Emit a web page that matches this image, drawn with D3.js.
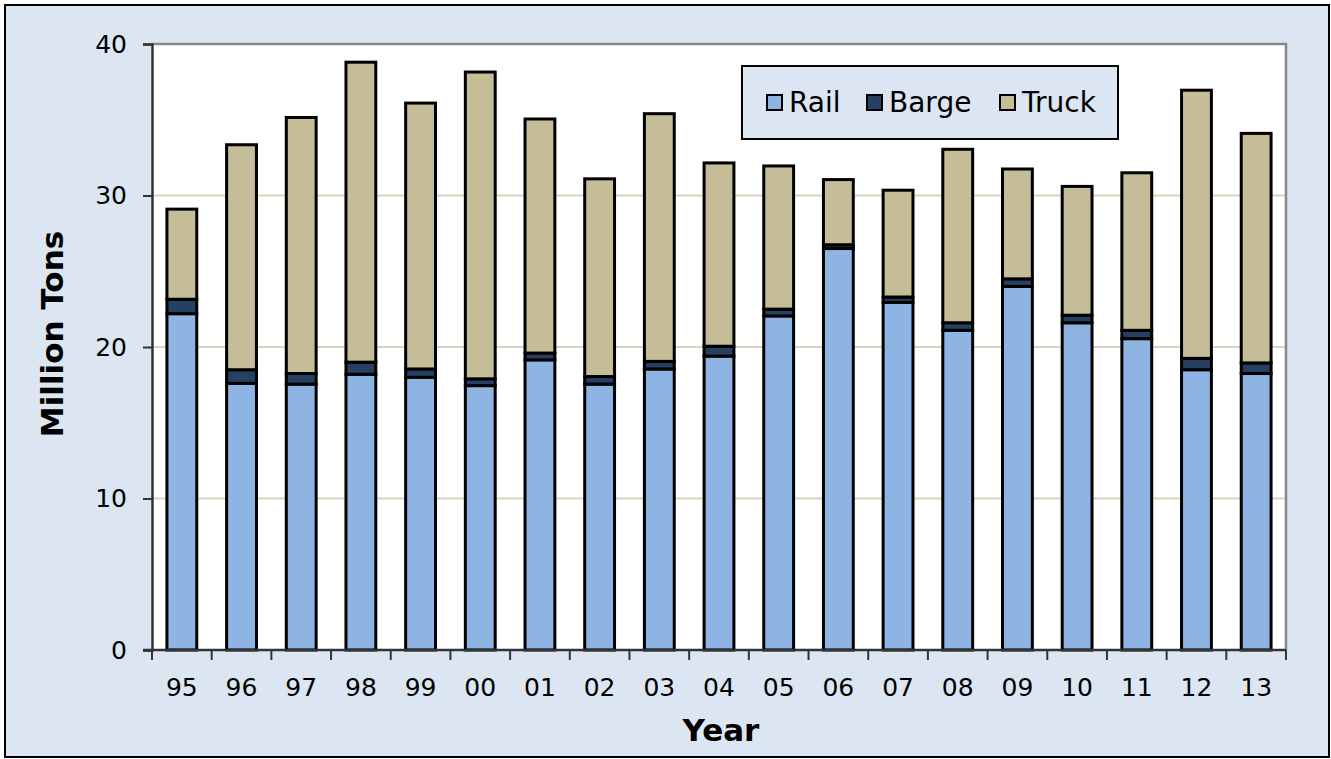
<!DOCTYPE html>
<html>
<head>
<meta charset="utf-8">
<script src="https://cdn.jsdelivr.net/npm/d3@7"></script>
<style>
  body { margin: 0; background: #ffffff; }
  svg { display: block; font-family: "DejaVu Sans", Verdana, sans-serif; }
</style>
</head>
<body>
<svg id="chart" width="1331" height="759"></svg>
<script>
// years on the x axis
var years = ["95", "96", "97", "98", "99", "00", "01", "02", "03", "04", "05", "06", "07", "08", "09", "10", "11", "12", "13"];
var seriesNames = ["Rail", "Barge", "Truck"];

// million tons
var rail  = [22.2, 17.6, 17.55, 18.2, 18.0, 17.45, 19.15, 17.55, 18.55, 19.4, 22.05, 26.5, 22.95, 21.1, 24.0, 21.6, 20.55, 18.5, 18.25];
var barge = [0.95, 0.9, 0.7, 0.8, 0.55, 0.45, 0.45, 0.5, 0.5, 0.65, 0.45, 0.25, 0.35, 0.5, 0.5, 0.5, 0.55, 0.75, 0.7];
var truck = [5.95, 14.85, 16.9, 19.8, 17.55, 20.25, 15.45, 13.05, 16.35, 12.1, 9.45, 4.3, 7.05, 11.45, 7.25, 8.5, 10.4, 17.7, 15.15];

var yTicks = [0, 10, 20, 30, 40];

var colors = { Rail: "#8eb4e3", Barge: "#254061", Truck: "#c4bd97" };

var svg = d3.select("#chart");

// outer frame
svg.append("rect")
    .attr("x", 5).attr("y", 5)
    .attr("width", 1324).attr("height", 752)
    .attr("fill", "#dce6f2")
    .attr("stroke", "#000").attr("stroke-width", 2);

var plotLeft = 152, plotRight = 1286, plotTop = 44, plotBottom = 650;

var x = d3.scaleBand().domain(years).range([plotLeft, plotRight])
    .paddingInner(0.5).paddingOuter(0.25);
var y = d3.scaleLinear().domain([0, 40]).range([plotBottom, plotTop]);

// plot area
svg.append("rect")
    .attr("x", plotLeft).attr("y", plotTop)
    .attr("width", plotRight - plotLeft).attr("height", plotBottom - plotTop)
    .attr("fill", "#fff");

// grid
svg.append("g").selectAll("line")
    .data(yTicks.filter(d => d > 0 && d < 40))
    .enter().append("line")
    .attr("x1", plotLeft).attr("x2", plotRight)
    .attr("y1", d => y(d)).attr("y2", d => y(d))
    .attr("stroke", "#d9d4bd").attr("stroke-width", 2);

// top and right border of plot
svg.append("path")
    .attr("d", "M" + plotLeft + "," + plotTop + "H" + plotRight + "V" + plotBottom)
    .attr("fill", "none")
    .attr("stroke", "#888").attr("stroke-width", 2.5);

// stacked data
var table = years.map((yr, i) => ({ year: yr, Rail: rail[i], Barge: barge[i], Truck: truck[i] }));
var stacked = d3.stack().keys(seriesNames)(table);

svg.append("g").selectAll("g")
    .data(stacked)
    .enter().append("g")
    .attr("fill", d => colors[d.key])
    .selectAll("rect")
    .data(d => d)
    .enter().append("rect")
    .attr("x", d => x(d.data.year))
    .attr("width", x.bandwidth())
    .attr("y", d => y(d[1]))
    .attr("height", d => y(d[0]) - y(d[1]))
    .attr("stroke", "#000")
    .attr("stroke-width", 3);

// y axis
var yAxis = d3.axisLeft(y).tickValues(yTicks).tickSize(9).tickPadding(16);
var gy = svg.append("g")
    .attr("transform", "translate(" + plotLeft + ",0)")
    .call(yAxis);
gy.select(".domain").attr("stroke", "#333").attr("stroke-width", 2.5);
gy.selectAll(".tick line").attr("stroke", "#333").attr("stroke-width", 2);
gy.selectAll("text")
    .attr("font-size", 25)
    .attr("font-family", "DejaVu Sans, sans-serif")
    .attr("fill", "#000");

// x axis, ticks at category boundaries
var gx = svg.append("g");
gx.append("line")
    .attr("x1", plotLeft - 9).attr("x2", plotRight)
    .attr("y1", plotBottom).attr("y2", plotBottom)
    .attr("stroke", "#333").attr("stroke-width", 2.5);
var step = x.step();
gx.selectAll(".xt")
    .data(d3.range(years.length + 1))
    .enter().append("line")
    .attr("x1", i => plotLeft + i * step).attr("x2", i => plotLeft + i * step)
    .attr("y1", plotBottom).attr("y2", plotBottom + 10)
    .attr("stroke", "#333").attr("stroke-width", 2);
gx.selectAll("text")
    .data(years)
    .enter().append("text")
    .attr("x", d => x(d) + x.bandwidth() / 2)
    .attr("y", 696)
    .attr("text-anchor", "middle")
    .attr("font-size", 25)
    .text(d => d);

// axis titles
svg.append("text")
    .attr("x", 721).attr("y", 741)
    .attr("text-anchor", "middle")
    .attr("font-size", 31).attr("font-weight", "bold")
    .text("Year");

svg.append("text")
    .attr("transform", "translate(63,334) rotate(-90)")
    .attr("text-anchor", "middle")
    .attr("font-size", 31).attr("font-weight", "bold")
    .text("Million Tons");

// legend
var legend = svg.append("g");
legend.append("rect")
    .attr("x", 742).attr("y", 66)
    .attr("width", 376).attr("height", 73)
    .attr("fill", "#dce6f2")
    .attr("stroke", "#000").attr("stroke-width", 2);

var legendX = [767, 867, 1000];
seriesNames.forEach((name, i) => {
    legend.append("rect")
        .attr("x", legendX[i]).attr("y", 95)
        .attr("width", 15).attr("height", 15)
        .attr("fill", colors[name])
        .attr("stroke", "#000").attr("stroke-width", 2);
    legend.append("text")
        .attr("x", legendX[i] + 22).attr("y", 112)
        .attr("font-size", 28)
        .text(name);
});
</script>
</body>
</html>
